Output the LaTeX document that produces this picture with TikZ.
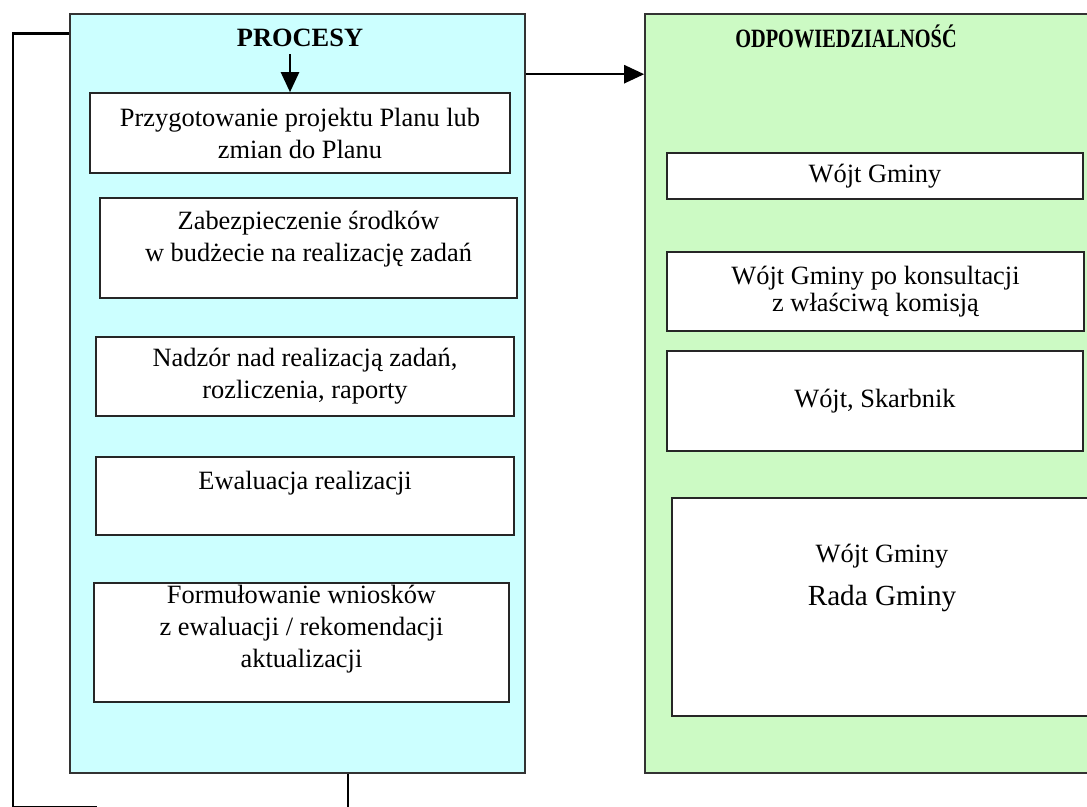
\documentclass[tikz,border=0pt]{standalone}
\usepackage{fontspec}
\usepackage{graphicx}
\setmainfont{Liberation Serif}
\usetikzlibrary{arrows.meta}
\definecolor{procblue}{RGB}{204,255,255}
\definecolor{odpgreen}{RGB}{204,250,196}
\tikzset{
  frame/.style={rectangle, draw=black!80, line width=0.8pt, inner sep=0pt},
  box/.style={rectangle, draw=black!85, line width=0.8pt, fill=white, align=center, inner sep=0pt},
  arr/.style={line width=1.2pt, -{Triangle[length=10pt, width=9pt]}},
  loopline/.style={line width=1.4pt},
}
\begin{document}
\begin{tikzpicture}[x=0.5pt, y=-0.5pt, font=\fontsize{13.2}{16}\selectfont]
    \useasboundingbox (0,0) rectangle (1087,807);
    \clip (0,0) rectangle (1087,807);

    % ramki
    \node[frame, fill=procblue, minimum width=227.5pt, minimum height=379.5pt] (procesy) at (297.5,393.5) {};
    \node[frame, fill=odpgreen, minimum width=225pt, minimum height=379.5pt] (odp) at (870,393.5) {};
    \node[anchor=base] (ptitle) at (300,47) {\textbf{PROCESY}};
    \node[anchor=base] (otitle) at (846,48) {\scalebox{0.77}[1]{\textbf{ODPOWIEDZIALNOŚĆ}}};

    % procesy
    \node[box, minimum width=210pt, minimum height=40pt] (p1) at (300,133) {Przygotowanie projektu Planu lub\\zmian do Planu};
    \node[box, minimum width=208.5pt, minimum height=50pt] (p2) at (308.5,248) {Zabezpieczenie środków\\w budżecie na realizację zadań\\[-4pt]\mbox{}};
    \node[box, minimum width=209pt, minimum height=39.5pt] (p3) at (305,376.5) {Nadzór nad realizacją zadań,\\rozliczenia, raporty};
    \node[box, minimum width=209pt, minimum height=39pt] (p4) at (305,496) {Ewaluacja realizacji\\\mbox{}};
    \node[box, minimum width=207.5pt, minimum height=59.5pt] (p5) at (301.5,642.5) {Formułowanie wniosków\\z ewaluacji / rekomendacji\\aktualizacji\\\mbox{}};

    % odpowiedzialnosc
    \node[box, minimum width=208pt, minimum height=23pt] (o1) at (875,176) {Wójt Gminy};
    \node[box, minimum width=208.5pt, minimum height=39.5pt, font=\fontsize{13.2}{13.5}\selectfont] (o2) at (875.5,291.5) {Wójt Gminy po konsultacji\\z właściwą komisją};
    \node[box, minimum width=208pt, minimum height=50pt] (o3) at (875,401) {Wójt, Skarbnik};
    \node[box, minimum width=210pt, minimum height=109pt] (o4) at (882,607) {Wójt Gminy\\[5.5pt]{\fontsize{14.6}{16}\selectfont Rada Gminy}\\\mbox{}\\\mbox{}};

    \draw[arr] ([xshift=-5pt]ptitle.south) -- ([xshift=-5pt]p1.north);
    \draw[arr] ([yshift=-30.5pt]procesy.north east) -- ([yshift=-30.5pt]odp.north west);

    % petla
    \coordinate (lb) at (13,807);
    \coordinate (le) at (97,807);
    \coordinate (fb) at (348,815);
    \draw[loopline] ([yshift=-10pt]procesy.north west) -| (lb) -- (le);
    \draw[loopline] (fb |- procesy.south) -- (fb);

\end{tikzpicture}
\end{document}
